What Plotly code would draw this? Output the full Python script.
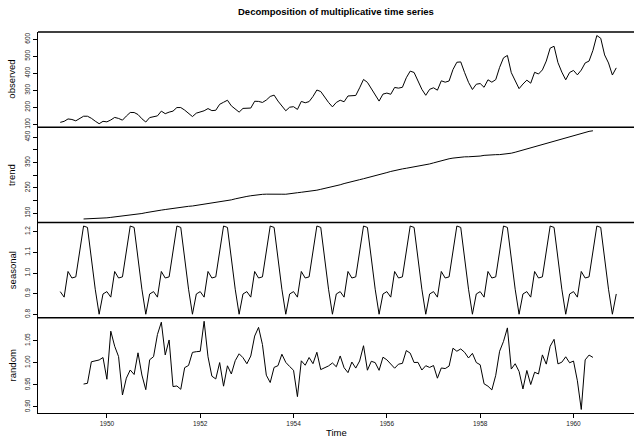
import plotly.graph_objects as go

# ---- data: AirPassengers, multiplicative decomposition ----
start_year = 1949
months_per_year = 12

observed = [112,118,132,129,121,135,148,148,136,119,104,118,
            115,126,141,135,125,149,170,170,158,133,114,140,
            145,150,178,163,172,178,199,199,184,162,146,166,
            171,180,193,181,183,218,230,242,209,191,172,194,
            196,196,236,235,229,243,264,272,237,211,180,201,
            204,188,235,227,234,264,302,293,259,229,203,229,
            242,233,267,269,270,315,364,347,312,274,237,278,
            284,277,317,313,318,374,413,405,355,306,271,306,
            315,301,356,348,355,422,465,467,404,347,305,336,
            340,318,362,348,363,435,491,505,404,359,310,337,
            360,342,406,396,420,472,548,559,463,407,362,405,
            417,391,419,461,472,535,622,606,508,461,390,432]

trend = [None,None,None,None,None,None,126.792,127.250,127.958,128.583,129.000,129.750,
         131.250,133.083,134.917,136.417,137.417,138.750,140.917,143.167,145.708,148.417,151.542,154.708,
         157.125,159.542,161.833,164.125,166.667,169.083,171.250,173.583,175.458,176.833,178.042,180.167,
         183.125,186.208,189.042,191.292,193.583,195.833,198.042,199.750,202.208,206.250,210.417,213.375,
         215.833,218.500,220.917,222.917,224.083,224.708,225.333,225.333,224.958,224.583,224.458,225.542,
         228.000,230.458,232.250,233.917,235.625,237.750,240.500,243.958,247.167,250.250,253.500,257.125,
         261.833,266.667,271.125,275.208,278.500,281.958,285.750,289.333,293.250,297.167,301.000,305.458,
         309.958,314.417,318.625,321.750,324.500,327.083,329.542,331.833,334.458,337.542,340.542,344.083,
         348.250,353.000,357.625,361.375,364.500,367.167,369.458,371.208,372.167,372.417,372.750,373.625,
         375.250,377.917,379.500,380.000,380.708,380.958,381.833,383.667,386.500,390.333,394.708,398.625,
         402.542,407.167,411.875,416.333,420.500,425.500,430.708,435.125,437.708,440.958,445.833,450.625,
         456.333,461.375,465.208,469.333,472.750,475.042,None,None,None,None,None,None]

seasonal_figure = [0.91023,0.88363,1.00737,0.97591,0.98138,1.11278,
                   1.22656,1.21991,1.06049,0.92176,0.80118,0.89882]

random = [None,None,None,None,None,None,0.9517,0.9534,1.0022,1.0040,1.0063,1.0118,
          0.9626,1.0715,1.0374,1.0140,0.9269,0.9650,0.9836,0.9734,1.0225,0.9722,0.9390,1.0068,
          1.0138,1.0640,1.0919,1.0177,1.0516,0.9460,0.9474,0.9398,0.9889,0.9939,1.0235,1.0251,
          1.0259,1.0940,1.0135,0.9696,0.9633,1.0004,0.9469,0.9931,0.9746,1.0047,1.0203,1.0115,
          0.9977,1.0152,1.0605,1.0802,1.0413,0.9718,0.9552,0.9895,0.9934,1.0193,1.0009,0.9915,
          0.9830,0.9232,1.0044,0.9944,1.0119,0.9979,1.0238,0.9845,0.9881,0.9928,0.9995,0.9909,
          1.0154,0.9888,0.9776,1.0016,0.9879,1.0040,1.0386,0.9831,1.0033,1.0003,0.9828,1.0126,
          1.0066,0.9970,0.9876,0.9968,0.9986,1.0276,1.0218,1.0005,1.0009,0.9835,0.9933,0.9894,
          0.9937,0.9650,0.9882,0.9868,0.9924,1.0329,1.0261,1.0313,1.0236,1.0108,1.0213,1.0005,
          0.9954,0.9523,0.9469,0.9384,0.9716,1.0261,1.0484,1.0790,0.9857,0.9978,0.9803,0.9406,
          0.9825,0.9506,0.9785,0.9746,1.0178,0.9969,1.0373,1.0531,0.9974,1.0013,1.0135,0.9999,
          1.0039,0.9591,0.8941,1.0065,1.0174,1.0121,None,None,None,None,None,None]

panel_names = ["observed", "trend", "seasonal", "random"]
x_tick_vals = [1950, 1952, 1954, 1956, 1958, 1960]
obs_ticks = [100, 200, 300, 400, 500, 600]
trend_ticks = [150, 200, 250, 300, 350, 400, 450]
trend_tick_text = ["150", "", "250", "", "350", "", "450"]
seas_ticks = [0.8, 0.9, 1.0, 1.1, 1.2]
seas_tick_text = ["0.8", "0.9", "1.0", "1.1", "1.2"]
rand_ticks = [0.90, 0.95, 1.00, 1.05]
rand_tick_text = ["0.90", "0.95", "1.00", "1.05"]

# ---- build ----
n = len(observed)
time = [start_year + i / months_per_year for i in range(n)]
seasonal = [seasonal_figure[i % months_per_year] for i in range(n)]

def padded(vals):
    v = [a for a in vals if a is not None]
    lo, hi = min(v), max(v)
    d = (hi - lo) * 0.04
    return [lo - d, hi + d]

FONT = "Liberation Sans, Arial, Helvetica, sans-serif"
line = dict(color="black", width=1)

fig = go.Figure()
series = [observed, trend, seasonal, random]
axes = ["y", "y2", "y3", "y4"]
for s, ax in zip(series, axes):
    fig.add_trace(go.Scatter(x=time, y=s, mode="lines", line=line, yaxis=ax,
                             connectgaps=False, hoverinfo="skip"))

W, H = 634, 441
L, R, T, B = 38, 0, 32, 28
plot_w = W - L - R
px_per_year = 46.66
x0 = 1948.5233
x_range = [x0, x0 + plot_w / px_per_year]

tick_font = dict(family=FONT, size=6.5, color="#222")

def yax(domain, rng, vals, text):
    return dict(domain=domain, range=rng, tickmode="array", tickvals=vals, ticktext=text,
                ticks="outside", ticklen=4, tickwidth=1, tickcolor="black",
                tickangle=-90, tickfont=tick_font, showgrid=False, zeroline=False,
                showline=True, linecolor="black", linewidth=1.3, anchor="x", fixedrange=True)

domains = [[0.75, 1.0], [0.5, 0.75], [0.25, 0.5], [0.0, 0.25]]
fig.update_layout(
    width=W, height=H, showlegend=False,
    margin=dict(l=L, r=R, t=T, b=B),
    paper_bgcolor="white", plot_bgcolor="white",
    font=dict(family=FONT, color="black"),
    xaxis=dict(range=x_range, anchor="y4", tickmode="array", tickvals=x_tick_vals,
               ticktext=[str(v) for v in x_tick_vals],
               ticks="outside", ticklen=4, tickwidth=1, tickcolor="black",
               tickfont=tick_font, showgrid=False, zeroline=False,
               showline=True, linecolor="black", linewidth=1.3),
    yaxis=yax(domains[0], padded(observed), obs_ticks, [str(v) for v in obs_ticks]),
    yaxis2=yax(domains[1], padded(trend), trend_ticks, trend_tick_text),
    yaxis3=yax(domains[2], padded(seasonal), seas_ticks, seas_tick_text),
    yaxis4=yax(domains[3], padded(random), rand_ticks, rand_tick_text),
)

# panel frame lines (top of each panel)
for d in domains:
    fig.add_shape(type="line", xref="paper", yref="paper", x0=0, x1=1, y0=d[1], y1=d[1],
                  line=dict(color="black", width=1.3))

plot_h = H - T - B
for name, d in zip(panel_names, domains):
    fig.add_annotation(text=name, xref="paper", yref="paper",
                       x=(12 - L) / plot_w, y=(d[0] + d[1]) / 2,
                       textangle=-90, showarrow=False, xanchor="center", yanchor="middle",
                       font=dict(family=FONT, size=9.5, color="black"))

fig.add_annotation(text="<b>Decomposition of multiplicative time series</b>",
                   xref="paper", yref="paper", x=0.5, y=1 + (T - 12) / plot_h,
                   showarrow=False, xanchor="center", yanchor="middle",
                   font=dict(family=FONT, size=9.5, color="black"))
fig.add_annotation(text="Time", xref="paper", yref="paper", x=0.5, y=-(432 - (H - B)) / plot_h,
                   showarrow=False, xanchor="center", yanchor="middle",
                   font=dict(family=FONT, size=9.5, color="black"))

fig.write_html("out.html", config={"displayModeBar": False},
               post_script="document.body.style.margin='0';document.body.style.overflow='hidden';")
